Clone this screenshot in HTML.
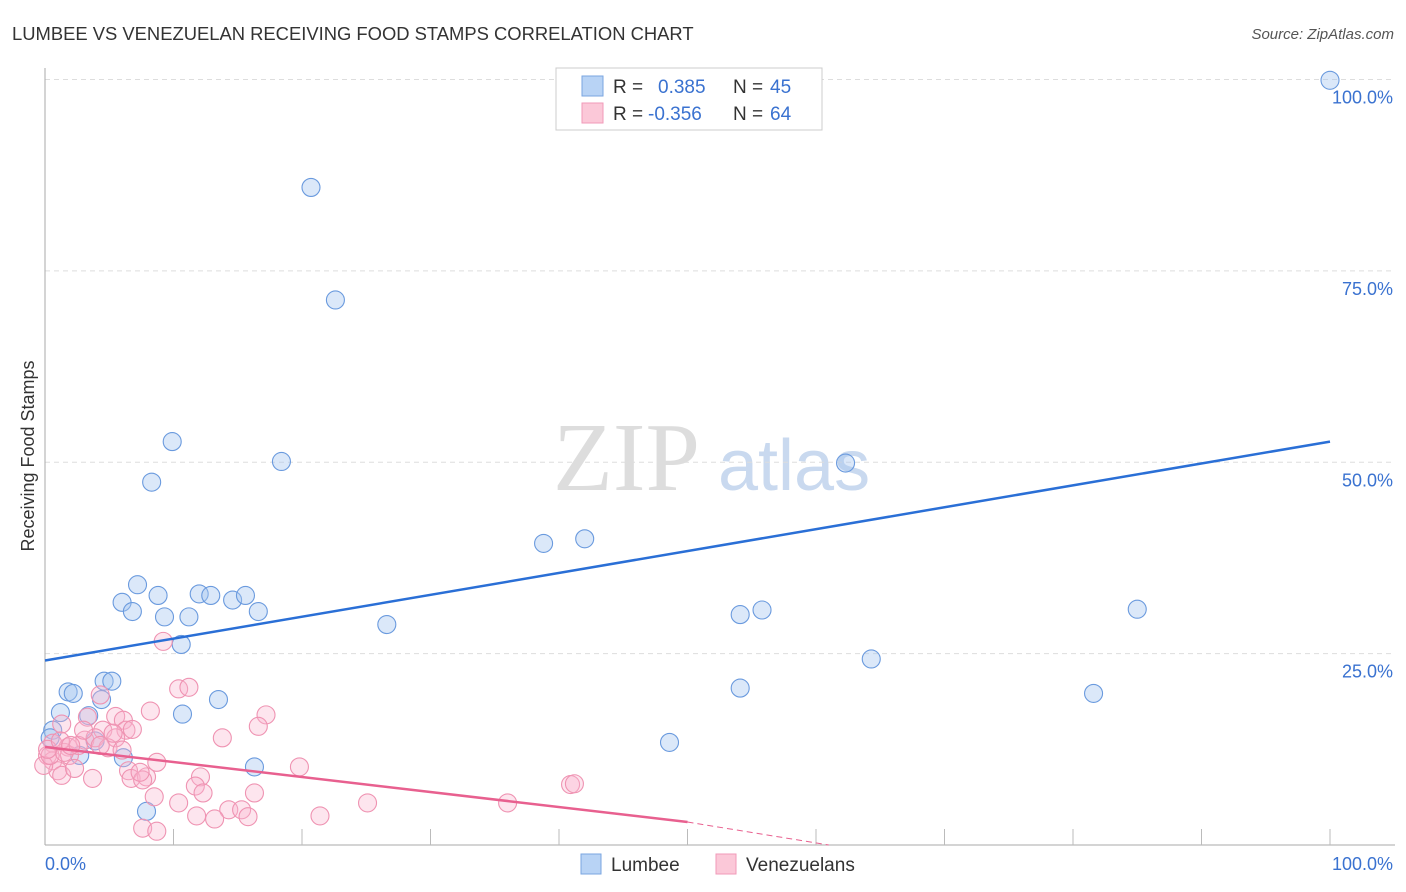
<!DOCTYPE html>
<html><head><meta charset="utf-8"><style>
body{margin:0;background:#fff;font-family:"Liberation Sans",sans-serif;}
#c{position:relative;width:1406px;height:892px;overflow:hidden;}
</style></head><body>
<div id="c">
<svg id="s" width="1406" height="892" xmlns="http://www.w3.org/2000/svg" font-family="Liberation Sans, sans-serif">
<text x="12" y="40" font-size="18.4" fill="#333">LUMBEE VS VENEZUELAN RECEIVING FOOD STAMPS CORRELATION CHART</text>
<text x="1394" y="39" font-size="15" fill="#555" font-style="italic" text-anchor="end">Source: ZipAtlas.com</text>
<text x="34" y="456" font-size="18" fill="#333" text-anchor="middle" transform="rotate(-90 34 456)">Receiving Food Stamps</text>
<text x="553" y="490" font-size="98" fill="#ddd" font-family="Liberation Serif, serif">ZIP</text>
<text x="718" y="490" font-size="72" fill="#c9d9ef">atlas</text>
<g id="grid"></g><g id="pts"></g><g id="lines"></g>
<g>
<rect x="556" y="68" width="266" height="62" fill="#fff" stroke="#ccc"/>
<rect x="582" y="76" width="21" height="20" fill="#b8d3f5" stroke="#7aa6e0"/>
<rect x="582" y="103" width="21" height="20" fill="#fbc8d8" stroke="#f09ab8"/>
<text x="613" y="93" font-size="19" fill="#333">R =</text><text x="658" y="93" font-size="19" fill="#3a72d0">0.385</text>
<text x="733" y="93" font-size="19" fill="#333">N =</text><text x="770" y="93" font-size="19" fill="#3a72d0">45</text>
<text x="613" y="120" font-size="19" fill="#333">R =</text><text x="648" y="120" font-size="19" fill="#3a72d0">-0.356</text>
<text x="733" y="120" font-size="19" fill="#333">N =</text><text x="770" y="120" font-size="19" fill="#3a72d0">64</text>
</g>
<g>
<rect x="581" y="854" width="20" height="20" fill="#b8d3f5" stroke="#7aa6e0"/>
<text x="611" y="871" font-size="19" fill="#333">Lumbee</text>
<rect x="716" y="854" width="20" height="20" fill="#fbc8d8" stroke="#f09ab8"/>
<text x="746" y="871" font-size="19" fill="#333">Venezuelans</text>
</g>
</svg>
</div>
<script>
const blueX=[100,20.7,22.6,9.9,18.4,8.3,62.3,38.8,42,7.2,6,8.8,6.8,12,12.9,14.6,15.6,16.6,9.3,11.2,10.6,26.6,54.1,55.8,85,64.3,1.8,2.2,4.6,5.2,4.4,13.5,10.7,54.1,81.6,1.2,3.4,0.6,0.4,3.9,2.7,6.1,16.3,48.6,7.9];
const blueY=[99.9,85.9,71.2,52.7,50.1,47.4,49.9,39.4,40,34,31.7,32.6,30.5,32.8,32.6,32,32.6,30.5,29.8,29.8,26.2,28.8,30.1,30.7,30.8,24.3,20,19.8,21.4,21.4,19,19,17.1,20.5,19.8,17.3,16.9,15,14,13.6,11.7,11.4,10.2,13.4,4.4];
const pinkX=[9.2,10.4,11.2,4.3,8.2,1.3,3.3,5.5,6.1,4.5,6.3,6.8,5.5,13.8,17.2,16.6,0.6,1.8,3.1,3.9,4.9,6,1.9,0.2,0.6,1,1.3,2.3,3.7,6.5,6.7,7.9,7.6,8.7,19.8,12.1,11.7,12.3,10.4,8.5,14.3,15.3,15.8,16.3,13.2,11.8,7.6,8.7,21.4,25.1,36,40.9,41.2,-0.1,0.4,1.5,2.6,5.3,0.2,3,4.3,1.2,2,7.4];
const pinkY=[26.6,20.4,20.6,19.6,17.5,15.8,16.7,16.8,16.3,15,15,15.1,14,14,17,15.5,13.3,12.8,13.7,14,12.7,12.4,11.7,11.7,11,9.7,9.1,10,8.7,9.7,8.7,8.9,8.5,10.8,10.2,8.9,7.7,6.8,5.5,6.3,4.6,4.6,3.7,6.8,3.4,3.8,2.2,1.8,3.8,5.5,5.5,7.9,8,10.4,11.7,12.1,13,14.6,12.5,15,13,13.6,13,9.5];
const yTicks=[25,50,75,100];
const NS="http://www.w3.org/2000/svg";
const X=v=>45+v*12.85, Y=v=>845-v*7.655;
function mk(t,a,p){const e=document.createElementNS(NS,t);for(const k in a)e.setAttribute(k,a[k]);p.appendChild(e);return e;}
const g=document.getElementById('grid');
yTicks.forEach(t=>{
 const l=mk('line',{x1:45,x2:1395,y1:Y(t),y2:Y(t),stroke:'#ddd','stroke-dasharray':'5,4'},g);
 
 
 const tx=mk('text',{x:1393,y:Y(t)+24,'font-size':18,fill:'#3a72d0','text-anchor':'end'},g);tx.textContent=t.toFixed(1)+'%';
 
 
});
mk('line',{x1:45,x2:45,y1:68,y2:845,stroke:'#aaa'},g);
mk('line',{x1:45,x2:1395,y1:845,y2:845,stroke:'#aaa'},g);
for(let i=1;i<=10;i++)mk('line',{x1:X(i*10),x2:X(i*10),y1:829,y2:845,stroke:'#bbb'},g);
let t0=mk('text',{x:45,y:870,'font-size':18,fill:'#3a72d0'},g);t0.textContent='0.0%';


let t1=mk('text',{x:1393,y:870,'font-size':18,fill:'#3a72d0','text-anchor':'end'},g);t1.textContent='100.0%';


const p=document.getElementById('pts');
blueX.forEach((x,i)=>{const c=mk('circle',{cx:X(x),cy:Y(blueY[i]),r:9,fill:'rgba(165,198,240,0.4)',stroke:'#6a9ade','stroke-width':1.1},p);
 
 });
pinkX.forEach((x,i)=>{const c=mk('circle',{cx:X(x),cy:Y(pinkY[i]),r:9,fill:'rgba(248,180,205,0.35)',stroke:'#ef93b2','stroke-width':1.1},p);
 
 });
const L=document.getElementById('lines');
const bl=mk('line',{x1:X(0),y1:Y(24.1),x2:X(100),y2:Y(52.7),stroke:'#2a6fd6','stroke-width':2.5},L);


const pl=mk('line',{x1:X(0),y1:Y(12.8),x2:X(50),y2:Y(3),stroke:'#e8608f','stroke-width':2.5},L);


const pd=mk('line',{x1:X(50),y1:Y(3),x2:X(61),y2:Y(0),stroke:'#e8608f','stroke-width':1,'stroke-dasharray':'6,4'},L);


</script>
</body></html>
